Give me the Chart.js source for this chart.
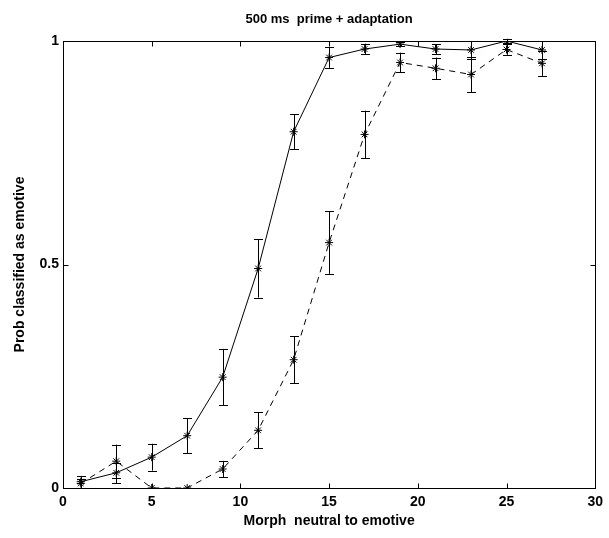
<!DOCTYPE html>
<html>
<head>
<meta charset="utf-8">
<script src="https://cdn.jsdelivr.net/npm/chart.js@4/dist/chart.umd.min.js"></script>
<style>
  html, body { margin: 0; padding: 0; background: #fff; }
  #wrap { width: 609px; height: 538px; }
</style>
</head>
<body>
<div id="wrap"><canvas id="myChart" width="609" height="538"></canvas></div>
<script>
// morph steps and proportions (mean, sem) for the two conditions
const morph = [1, 3, 5, 7, 9, 11, 13, 15, 17, 19, 21, 23, 25, 27];
const solidMean = [0.014, 0.034, 0.069, 0.117, 0.248, 0.491, 0.797, 0.963, 0.982, 0.993, 0.982, 0.980, 1.0, 0.980];
const solidErr = [0.013, 0.023, 0.030, 0.039, 0.063, 0.065, 0.039, 0.023, 0.012, 0.005, 0.011, 0.020, 0.005, 0.020];
const dashedMean = [0.010, 0.060, 0.0, 0.0, 0.0425, 0.129, 0.287, 0.549, 0.791, 0.952, 0.939, 0.925, 0.981, 0.950];
const dashedErr = [0.010, 0.037, 0, 0, 0.018, 0.040, 0.053, 0.070, 0.053, 0.022, 0.024, 0.040, 0.012, 0.028];
const xTicks = [0, 5, 10, 15, 20, 25, 30];
const yTicks = [0, 0.5, 1];

const FONT = "'Liberation Sans', Arial, Helvetica, sans-serif";

function toPoints(xs, ys, errs) {
  let pts = [];
  for (let i = 0; i < xs.length; i++) {
    pts.push({ x: xs[i], y: ys[i], err: errs[i] });
  }
  return pts;
}

// vertical error bars with small caps
const errorBars = {
  id: "errorBars",
  afterDatasetsDraw(chart) {
    const ctx = chart.ctx;
    const xs = chart.scales.x;
    const ys = chart.scales.y;
    ctx.save();
    ctx.strokeStyle = "#000";
    ctx.lineWidth = 1;
    ctx.setLineDash([]);
    chart.data.datasets.forEach((ds) => {
      ds.data.forEach((p) => {
        if (!p.err) return;
        const px = Math.round(xs.getPixelForValue(p.x)) + 0.5;
        const top = ys.getPixelForValue(p.y + p.err);
        const bot = ys.getPixelForValue(p.y - p.err);
        ctx.beginPath();
        ctx.moveTo(px, top);
        ctx.lineTo(px, bot);
        ctx.moveTo(px - 4.5, Math.round(top) + 0.5);
        ctx.lineTo(px + 4.5, Math.round(top) + 0.5);
        ctx.moveTo(px - 4.5, Math.round(bot) + 0.5);
        ctx.lineTo(px + 4.5, Math.round(bot) + 0.5);
        ctx.stroke();
      });
    });
    ctx.restore();
  },
};

// closed axes box with inward tick marks
const axesBox = {
  id: "axesBox",
  afterDraw(chart) {
    const ctx = chart.ctx;
    const a = chart.chartArea;
    const xs = chart.scales.x;
    const ys = chart.scales.y;
    const L = Math.round(a.left) + 0.5;
    const R = Math.round(a.right) + 0.5;
    const T = Math.round(a.top) + 0.5;
    const B = Math.round(a.bottom) + 0.5;
    ctx.save();
    ctx.strokeStyle = "#000";
    ctx.lineWidth = 1;
    ctx.strokeRect(L, T, R - L, B - T);
    ctx.beginPath();
    xTicks.forEach((v) => {
      const px = Math.round(xs.getPixelForValue(v)) + 0.5;
      ctx.moveTo(px, B);
      ctx.lineTo(px, B - 5);
      ctx.moveTo(px, T);
      ctx.lineTo(px, T + 5);
    });
    yTicks.forEach((v) => {
      const py = Math.round(ys.getPixelForValue(v)) + 0.5;
      ctx.moveTo(L, py);
      ctx.lineTo(L + 5, py);
      ctx.moveTo(R, py);
      ctx.lineTo(R - 5, py);
    });
    ctx.stroke();
    ctx.restore();
  },
};

const data = {
  datasets: [
    {
      label: "solid",
      data: toPoints(morph, solidMean, solidErr),
      borderColor: "#000",
      backgroundColor: "#000",
      borderWidth: 1,
      pointStyle: "star",
      pointRadius: 4,
      pointBorderWidth: 1,
      tension: 0,
    },
    {
      label: "dashed",
      data: toPoints(morph, dashedMean, dashedErr),
      borderColor: "#000",
      backgroundColor: "#000",
      borderWidth: 1,
      borderDash: [6, 5],
      pointStyle: "star",
      pointRadius: 4,
      pointBorderWidth: 1,
      tension: 0,
    },
  ],
};

const config = {
  type: "line",
  data,
  options: {
    responsive: false,
    animation: false,
    layout: { padding: { right: 9 } },
    plugins: {
      legend: { display: false },
      tooltip: { enabled: false },
    },
    scales: {
      // top axis only carries the title so it sits centred over the plot
      top: {
        type: "linear",
        position: "top",
        min: 0,
        max: 30,
        afterFit: (s) => { s.height = 41; },
        grid: { display: false, drawTicks: false },
        border: { display: false },
        ticks: { display: false },
        title: {
          display: true,
          text: "500 ms  prime + adaptation",
          color: "#000",
          font: { family: FONT, size: 13, weight: "bold" },
          padding: { top: 12, bottom: 0 },
        },
      },
      x: {
        type: "linear",
        min: 0,
        max: 30,
        afterBuildTicks: (s) => { s.ticks = xTicks.map((v) => ({ value: v })); },
        afterFit: (s) => { s.height = 50; },
        grid: { display: false, drawTicks: false },
        border: { display: false },
        ticks: {
          color: "#000",
          padding: 6,
          maxRotation: 0,
          font: { family: FONT, size: 14, weight: "bold" },
        },
        title: {
          display: true,
          text: "Morph  neutral to emotive",
          color: "#000",
          font: { family: FONT, size: 14, weight: "bold" },
          padding: { top: 0, bottom: 8 },
        },
      },
      y: {
        min: 0,
        max: 1,
        afterBuildTicks: (s) => { s.ticks = yTicks.map((v) => ({ value: v })); },
        afterFit: (s) => { s.width = 63; },
        grid: { display: false, drawTicks: false },
        border: { display: false },
        ticks: {
          color: "#000",
          padding: 4,
          font: { family: FONT, size: 14, weight: "bold" },
          callback: (v) => String(v),
        },
        title: {
          display: true,
          text: "Prob classified as emotive",
          color: "#000",
          font: { family: FONT, size: 14, weight: "bold" },
          padding: { top: 12, bottom: 0 },
        },
      },
    },
  },
  plugins: [errorBars, axesBox],
};

const myChart = new Chart(document.getElementById("myChart"), config);
</script>
</body>
</html>
